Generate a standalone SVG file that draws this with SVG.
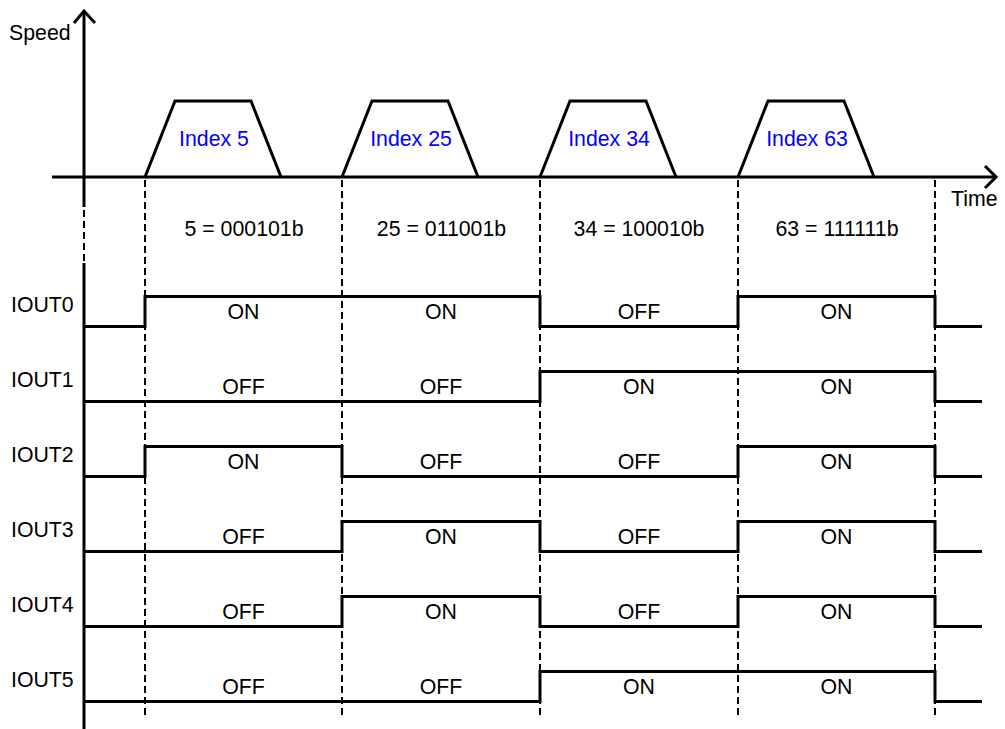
<svg xmlns="http://www.w3.org/2000/svg" width="1005" height="729" viewBox="0 0 1005 729">
<style>
text{font-family:"Liberation Sans",Arial,sans-serif;font-size:21.3px;fill:#000}
.c{text-anchor:middle}
.idx{fill:#0000ff}
.ax{fill:none;stroke:#000;stroke-width:3}
.w{fill:none;stroke:#000;stroke-width:3;stroke-linejoin:miter}
.d{fill:none;stroke:#000;stroke-width:2;stroke-dasharray:7 4}
</style>
<rect width="1005" height="729" fill="#fff"/>
<g id="axes">
<path class="ax" d="M84 207 V11"/>
<path class="ax" d="M74 23 L84 11 L95 23"/>
<path class="ax" d="M84 263 V729"/>
<path class="ax" d="M52 177 H996"/>
<path class="ax" d="M985 166 L996 177 L985 188"/>
<text x="9" y="40">Speed</text>
<text x="951" y="206">Time</text>
</g>
<g id="connectors">
<path class="d" d="M84 210 V262"/>
<path class="d" d="M145 180 V718"/>
<path class="d" d="M342 180 V718"/>
<path class="d" d="M540 180 V718"/>
<path class="d" d="M738 180 V718"/>
<path class="d" d="M935 180 V718"/>
</g>
<g id="profile">
<path class="w" d="M145 177 L175 101 H251 L281 177"/>
<path class="w" d="M342 177 L372 101 H448 L478 177"/>
<path class="w" d="M540 177 L570 101 H646 L676 177"/>
<path class="w" d="M738 177 L768 101 H844 L874 177"/>
</g>
<g id="index-labels">
<text class="c idx" x="214" y="146">Index 5</text>
<text class="c idx" x="411" y="146">Index 25</text>
<text class="c idx" x="609" y="146">Index 34</text>
<text class="c idx" x="807" y="146">Index 63</text>
</g>
<g id="binary-labels">
<text class="c" x="244" y="236">5 = 000101b</text>
<text class="c" x="441.5" y="236">25 = 011001b</text>
<text class="c" x="639" y="236">34 = 100010b</text>
<text class="c" x="837" y="236">63 = 111111b</text>
</g>
<g id="IOUT0">
<text x="11" y="312">IOUT0</text>
<path class="w" d="M84 326.5 H145 V296.5 H540 V326.5 H738 V296.5 H935 V326.5 H982"/>
<text class="c" x="243.5" y="319">ON</text>
<text class="c" x="441" y="319">ON</text>
<text class="c" x="639" y="319">OFF</text>
<text class="c" x="836.5" y="319">ON</text>
</g>
<g id="IOUT1">
<text x="11" y="387">IOUT1</text>
<path class="w" d="M84 401.5 H540 V371.5 H935 V401.5 H982"/>
<text class="c" x="243.5" y="394">OFF</text>
<text class="c" x="441" y="394">OFF</text>
<text class="c" x="639" y="394">ON</text>
<text class="c" x="836.5" y="394">ON</text>
</g>
<g id="IOUT2">
<text x="11" y="462">IOUT2</text>
<path class="w" d="M84 476.5 H145 V446.5 H342 V476.5 H738 V446.5 H935 V476.5 H982"/>
<text class="c" x="243.5" y="469">ON</text>
<text class="c" x="441" y="469">OFF</text>
<text class="c" x="639" y="469">OFF</text>
<text class="c" x="836.5" y="469">ON</text>
</g>
<g id="IOUT3">
<text x="11" y="537">IOUT3</text>
<path class="w" d="M84 551.5 H342 V521.5 H540 V551.5 H738 V521.5 H935 V551.5 H982"/>
<text class="c" x="243.5" y="544">OFF</text>
<text class="c" x="441" y="544">ON</text>
<text class="c" x="639" y="544">OFF</text>
<text class="c" x="836.5" y="544">ON</text>
</g>
<g id="IOUT4">
<text x="11" y="612">IOUT4</text>
<path class="w" d="M84 626.5 H342 V596.5 H540 V626.5 H738 V596.5 H935 V626.5 H982"/>
<text class="c" x="243.5" y="619">OFF</text>
<text class="c" x="441" y="619">ON</text>
<text class="c" x="639" y="619">OFF</text>
<text class="c" x="836.5" y="619">ON</text>
</g>
<g id="IOUT5">
<text x="11" y="687">IOUT5</text>
<path class="w" d="M84 701.5 H540 V671.5 H935 V701.5 H982"/>
<text class="c" x="243.5" y="694">OFF</text>
<text class="c" x="441" y="694">OFF</text>
<text class="c" x="639" y="694">ON</text>
<text class="c" x="836.5" y="694">ON</text>
</g>
</svg>
